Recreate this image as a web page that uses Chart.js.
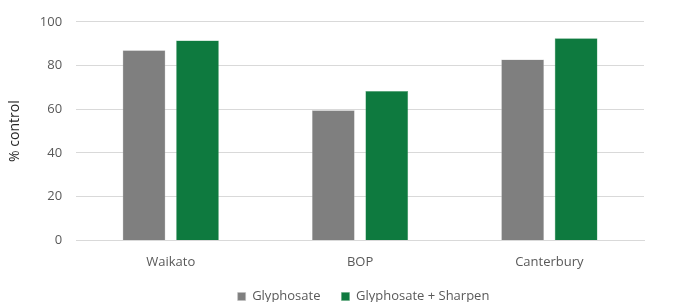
<!DOCTYPE html>
<html>
<head>
<meta charset="utf-8">
<script src="https://cdn.jsdelivr.net/npm/chart.js@4"></script>
<style>
  html, body { margin: 0; padding: 0; background: #fff; }
  #wrap { width: 675px; height: 302px; }
</style>
</head>
<body>
<div id="wrap"><canvas id="chart"></canvas></div>
<script>
var regions = ['Waikato', 'BOP', 'Canterbury'];
var glyphosate = [87, 59.5, 82.8];
var glyphosateSharpen = [91.5, 68.3, 92.5];
var yTicks = [0, 20, 40, 60, 80, 100];

var FONT = "'Open Sans', 'Liberation Sans', sans-serif";
var TEXT = '#595959';

// legend sits a bit right of centre and a bit higher than its padded box
var legendShift = {
  id: 'legendShift',
  afterLayout: function (chart) {
    var lg = chart.legend;
    if (!lg) return;
    lg.left += 38;
    lg.right += 38;
    lg.top -= 15;
    lg.bottom -= 15;
  }
};

new Chart(document.getElementById('chart').getContext('2d'), {
  type: 'bar',
  data: {
    labels: regions,
    datasets: [{
      label: 'Glyphosate',
      data: glyphosate,
      backgroundColor: '#7f7f7f',
      borderColor: '#bfbfbf',
      borderWidth: 0.5,
      categoryPercentage: 0.565,
      barPercentage: 0.8
    }, {
      label: 'Glyphosate + Sharpen',
      data: glyphosateSharpen,
      backgroundColor: '#0e7a3f',
      borderColor: '#5aa579',
      borderWidth: 0.5,
      categoryPercentage: 0.565,
      barPercentage: 0.8
    }]
  },
  options: {
    responsive: true,
    maintainAspectRatio: false,
    animation: false,
    layout: { padding: { left: 7, right: 31, top: 12, bottom: -26 } },
    scales: {
      x: {
        grid: { display: false, drawTicks: false },
        border: { color: '#d9d9d9', width: 1 },
        ticks: { color: TEXT, font: { family: FONT, size: 13 }, padding: 14 }
      },
      y: {
        min: 0,
        max: 100,
        afterBuildTicks: function (axis) {
          axis.ticks = yTicks.map(function (v) { return { value: v }; });
        },
        grid: { color: '#d9d9d9', drawTicks: false },
        border: { display: false },
        ticks: { color: TEXT, font: { family: FONT, size: 13 }, padding: 14 },
        title: {
          display: true,
          text: '% control',
          color: '#262626',
          font: { family: FONT, size: 14 },
          padding: { top: 0, bottom: 2 }
        }
      }
    },
    plugins: {
      legend: {
        position: 'bottom',
        labels: {
          color: TEXT,
          font: { family: FONT, size: 13 },
          boxWidth: 8,
          boxHeight: 8,
          padding: 21
        }
      },
      tooltip: { enabled: false }
    }
  },
  plugins: [legendShift]
});
</script>
</body>
</html>
